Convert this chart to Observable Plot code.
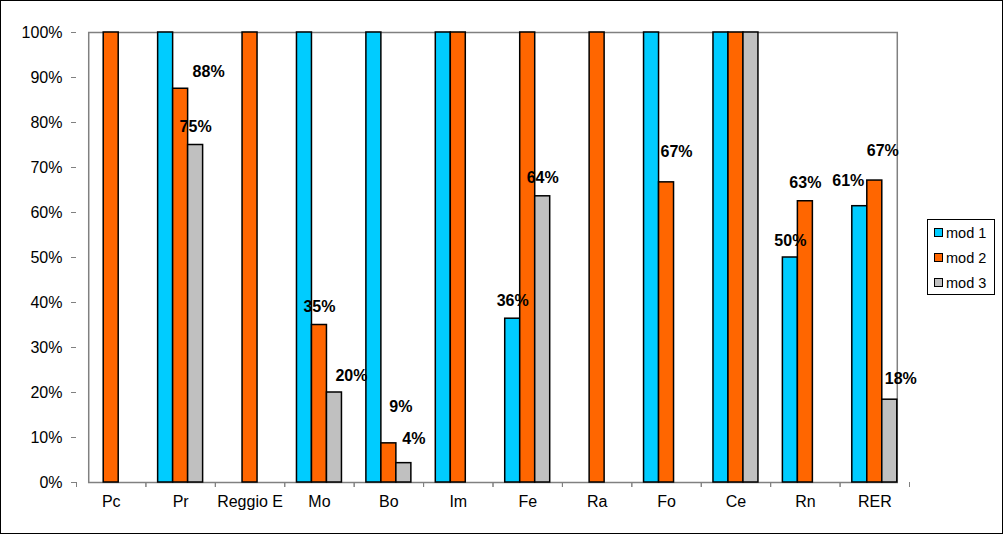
<!DOCTYPE html>
<html><head><meta charset="utf-8">
<script src="https://cdn.jsdelivr.net/npm/d3@7"></script>
<script src="https://cdn.jsdelivr.net/npm/@observablehq/plot@0.6"></script>
<style>
body{margin:0;background:#fff;}
#wrap{position:relative;width:1004px;height:535px;font-family:"Liberation Sans",Arial,sans-serif;}
#wrap svg{position:absolute;left:0;top:0;}
#border{position:absolute;left:0;top:0;width:1003px;height:534px;box-sizing:border-box;border:1px solid #000;pointer-events:none;}
#legend{position:absolute;left:927px;top:219px;width:68px;height:76px;box-sizing:border-box;border:1px solid #000;background:#fff;padding:0 0 0 6px;font-size:14.5px;color:#000;}
.item{display:flex;align-items:center;height:25px;}
.sw{width:7px;height:7px;border:1.5px solid #000;margin-right:3px;}
</style></head><body><div id="wrap"></div>
<script>
const categories = ["Pc","Pr","Reggio E","Mo","Bo","Im","Fe","Ra","Fo","Ce","Rn","RER"];
const series = ["mod 1","mod 2","mod 3"];
const colors = ["#00CCFF","#FF6600","#C0C0C0"];
const mod1 = [null,100,null,100,100,100,36.4,null,100,100,50,61.4];
const mod2 = [100,87.5,100,35,8.7,100,100,100,66.7,100,62.5,67.1];
const mod3 = [null,75,null,20,4.3,null,63.6,null,null,100,null,18.4];
const yTicks = [0,10,20,30,40,50,60,70,80,90,100];

// label nudges (dx, dy in px relative to bar top) — Excel labels were hand-dragged
const nudge = {
  "Pr|mod 2":[28,-12], "Mo|mod 3":[17,-12], "Bo|mod 2":[12,-31], "Bo|mod 3":[10,-19],
  "Fo|mod 2":[10,-25], "Rn|mod 1":[0,-12], "RER|mod 1":[-11.5,-20], "RER|mod 2":[8,-25], "RER|mod 3":[11,-16]
};

const values = [mod1, mod2, mod3];
const data = [];
categories.forEach((c,i)=>values.forEach((arr,j)=>{ if(arr[i]!=null) data.push({cat:c, series:series[j], value:arr[i]}); }));
const labelled = data.filter(d=>d.value<100);

const W = 1004, H = 535, mL = 76, mR = 95, mT = 32, mB = 53;
const step = (W - mL - mR) / categories.length;
const pInner = 0.352, pOuter = pInner / 2;
const half = step / 2;
const outerGap = pOuter * step; // distance from frame edge to first facet

const chart = Plot.plot({
  width: W, height: H,
  marginLeft: mL, marginRight: mR, marginTop: mT, marginBottom: mB,
  style: {fontFamily: "Liberation Sans, Arial, sans-serif", fontSize: "16px", background: "transparent", color: "#000"},
  fx: {domain: categories, paddingInner: pInner, paddingOuter: pOuter, round: false, label: null},
  x: {domain: series, padding: 0, round: false, axis: null},
  y: {domain: [0,100], label: null},
  color: {domain: series, range: colors},
  marks: [
    Plot.frame({facet: "super", stroke: "#808080", strokeWidth: 1.5}),
    Plot.barY(data, {fx: "cat", x: "series", y: "value", fill: "series", stroke: "#000", strokeWidth: 1.5}),
    ...labelled.map(d => {
      const n = nudge[d.cat + "|" + d.series] || [0, -13];
      return Plot.text([d], {fx: "cat", x: "series", y: "value", text: v => Math.round(v.value) + "%",
        dx: n[0], dy: n[1], lineAnchor: "bottom", fontWeight: "bold", fontSize: 16, fill: "#000"});
    }),
    Plot.axisY({ticks: yTicks, tickFormat: d => d + "%", tickSize: 5, tickPadding: 9, dx: -outerGap, stroke: "#808080", fill: "#000", label: null}),
    Plot.axisFx({anchor: "bottom", tickSize: 0, tickPadding: 13, fill: "#000", label: null}),
    Plot.axisFx({anchor: "bottom", tickSize: 5, tickFormat: () => "", dx: -half, stroke: "#808080", label: null}),
    Plot.axisFx({anchor: "bottom", tickSize: 5, tickFormat: () => "", dx: half, stroke: "#808080", label: null})
  ]
});

const wrap = document.getElementById("wrap");
wrap.appendChild(chart);
const border = document.createElement("div"); border.id = "border"; wrap.appendChild(border);
const legend = d3.select(wrap).append("div").attr("id","legend");
series.forEach((s,i)=>{
  const it = legend.append("div").attr("class","item");
  it.append("div").attr("class","sw").style("background", colors[i]);
  it.append("span").text(s);
});
</script></body></html>
